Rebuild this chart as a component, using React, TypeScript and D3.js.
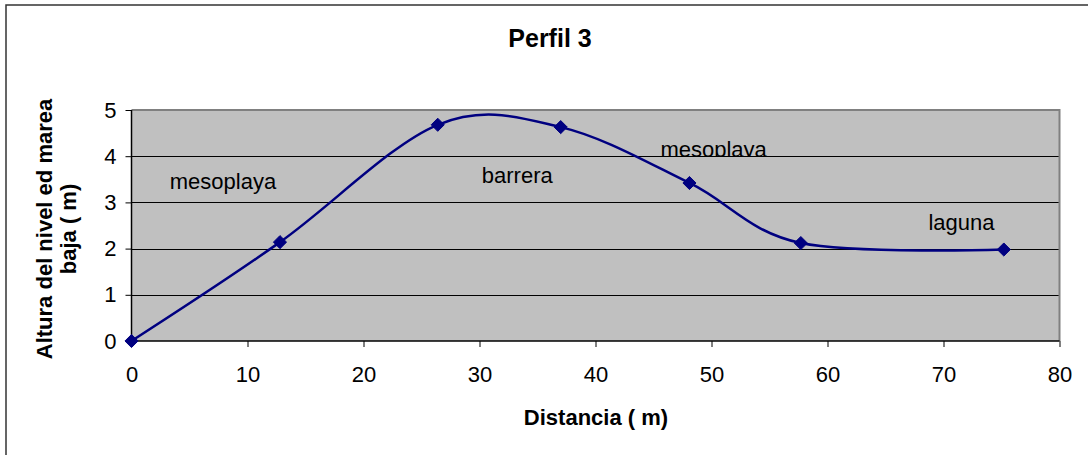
import React, {useEffect, useRef} from 'react';
import * as d3 from 'd3';

// Perfil 3 - distance (m) vs height above low tide (m)
const distancia = [0, 12.8, 26.4, 37.0, 48.1, 57.7, 75.2];
const altura = [0, 2.14, 4.68, 4.63, 3.42, 2.12, 1.98];

const xTicks = [0, 10, 20, 30, 40, 50, 60, 70, 80];
const yTicks = [0, 1, 2, 3, 4, 5];

// zone labels placed in data units
const zonas = ['mesoplaya', 'barrera', 'mesoplaya', 'laguna'];
const zonaX = [3.3, 30.2, 45.6, 68.7];
const zonaY = [3.28, 3.41, 3.98, 2.41];

export default function App() {
    const svgRef = useRef<SVGSVGElement>(null);

    const svgWidth = 1088,
        svgHeight = 455;

    const margin = {left: 131.5, right: 1059.5, top: 110, bottom: 341};
    const navy = '#000080';
    const font = 'Arial, "Liberation Sans", sans-serif';

    useEffect(() => {
        const svg = d3.select(svgRef.current);
        svg.selectAll('*').remove();

        const x = d3.scaleLinear().domain([0, 80]).range([margin.left, margin.right]);
        const y = d3.scaleLinear().domain([0, 5]).range([margin.bottom, margin.top]);

        // outer chart frame
        svg.append('rect')
            .attr('x', 6).attr('y', 5)
            .attr('width', 1100).attr('height', 470)
            .attr('fill', '#fff')
            .attr('stroke', '#333')
            .attr('stroke-width', 1.5);

        // plot area
        svg.append('rect')
            .attr('x', margin.left).attr('y', margin.top)
            .attr('width', margin.right - margin.left)
            .attr('height', margin.bottom - margin.top)
            .attr('fill', '#C0C0C0');

        // gridlines
        svg.append('g')
            .selectAll('line')
            .data(yTicks.filter(d => d > 0 && d < 5))
            .enter()
            .append('line')
            .attr('x1', margin.left).attr('x2', margin.right)
            .attr('y1', d => Math.round(y(d)) + 0.5)
            .attr('y2', d => Math.round(y(d)) + 0.5)
            .attr('stroke', '#000')
            .attr('stroke-width', 1);

        // top / right border of the plot
        svg.append('path')
            .attr('d', `M${margin.left},${margin.top} H${margin.right} V${margin.bottom}`)
            .attr('fill', 'none')
            .attr('stroke', '#808080')
            .attr('stroke-width', 2);

        // zone labels (third one is hidden under the gridline, as in the original)
        svg.append('clipPath').attr('id', 'clipZona')
            .append('rect')
            .attr('x', 0).attr('y', 0)
            .attr('width', svgWidth).attr('height', Math.round(y(4)));

        svg.append('g')
            .selectAll('text')
            .data(zonas)
            .enter()
            .append('text')
            .attr('x', (d, i) => x(zonaX[i]))
            .attr('y', (d, i) => y(zonaY[i]))
            .attr('clip-path', (d, i) => (i === 2 ? 'url(#clipZona)' : null))
            .style('font-family', font)
            .style('font-size', '22px')
            .attr('fill', '#000')
            .text(d => d);

        // x axis
        const xAxis = d3.axisBottom(x)
            .tickValues(xTicks)
            .tickSize(6)
            .tickPadding(19)
            .tickFormat(d => String(d));
        const gx = svg.append('g')
            .attr('transform', `translate(0,${margin.bottom})`)
            .call(xAxis);
        gx.select('.domain').attr('stroke', '#000').attr('stroke-width', 1.5)
            .attr('d', `M${margin.left},0H${margin.right}`);
        gx.selectAll('.tick line').attr('stroke', '#000');
        gx.selectAll('.tick text')
            .style('font-family', font)
            .style('font-size', '22px')
            .attr('fill', '#000');

        // y axis
        const yAxis = d3.axisLeft(y)
            .tickValues(yTicks)
            .tickSize(6)
            .tickPadding(9)
            .tickFormat(d => String(d));
        const gy = svg.append('g')
            .attr('transform', `translate(${margin.left},0)`)
            .call(yAxis);
        gy.select('.domain').attr('stroke', '#000').attr('stroke-width', 1.5)
            .attr('d', `M0,${margin.top}V${margin.bottom}`);
        gy.selectAll('.tick line').attr('stroke', '#000');
        gy.selectAll('.tick text')
            .style('font-family', font)
            .style('font-size', '22px')
            .attr('fill', '#000');

        // smoothed profile line
        const points = distancia.map((d, i) => [d, altura[i]] as [number, number]);
        const line = d3.line<[number, number]>()
            .x(d => x(d[0]))
            .y(d => y(d[1]))
            .curve(d3.curveCardinal.tension(0));

        svg.append('path')
            .datum(points)
            .attr('d', line)
            .attr('fill', 'none')
            .attr('stroke', navy)
            .attr('stroke-width', 2.5);

        // diamond markers
        const diamond = d3.symbol().type(d3.symbolDiamond2).size(110);
        svg.append('g')
            .selectAll('path')
            .data(points)
            .enter()
            .append('path')
            .attr('d', diamond)
            .attr('transform', d => `translate(${x(d[0])},${y(d[1])})`)
            .attr('fill', navy)
            .attr('stroke', navy)
            .attr('stroke-width', 1);

        // title
        svg.append('text')
            .attr('x', 550).attr('y', 47)
            .attr('text-anchor', 'middle')
            .style('font-family', font)
            .style('font-size', '25px')
            .style('font-weight', 'bold')
            .text('Perfil 3');

        // x axis title
        svg.append('text')
            .attr('x', 596).attr('y', 425)
            .attr('text-anchor', 'middle')
            .style('font-family', font)
            .style('font-size', '22px')
            .style('font-weight', 'bold')
            .text('Distancia ( m)');

        // y axis title (two lines)
        const yTitle = svg.append('text')
            .attr('transform', `translate(52,229) rotate(-90)`)
            .attr('text-anchor', 'middle')
            .style('font-family', font)
            .style('font-size', '22px')
            .style('font-weight', 'bold');
        yTitle.append('tspan').attr('x', 0).attr('dy', 0).text('Altura del nivel ed marea');
        yTitle.append('tspan').attr('x', 0).attr('dy', 24).text('baja ( m)');
    });

    return (
        <div>
            <svg ref={svgRef} width={svgWidth} height={svgHeight}
                 style={{position: 'absolute', left: 0, top: 0, display: 'block'}}/>
        </div>
    );
}
